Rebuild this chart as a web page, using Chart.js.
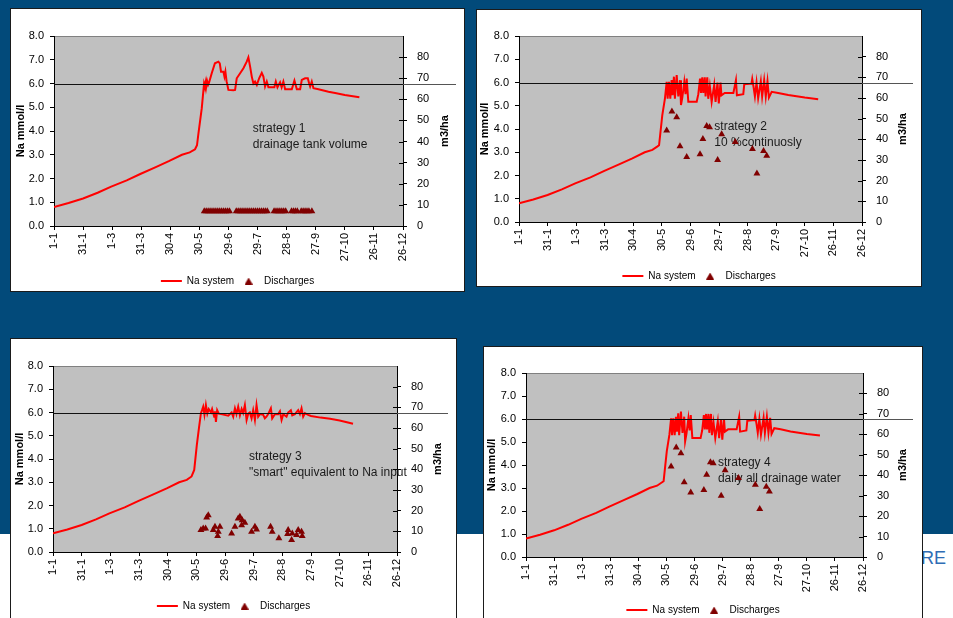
<!DOCTYPE html>
<html>
<head>
<meta charset="utf-8">
<script src="https://cdn.jsdelivr.net/npm/chart.js@4"></script>
<style>
  html, body { margin: 0; padding: 0; }
  body { width: 953px; height: 618px; overflow: hidden; position: relative; background: #fff;
         font-family: "Liberation Sans", Arial, sans-serif; }
  #band { position: absolute; left: 0; top: 0; width: 953px; height: 534px; background: #024a7a; }
  .panel { position: absolute; box-sizing: border-box; background: #fff; border: 1px solid #1b1b1b; }
  canvas { position: absolute; }
  #tail { position: absolute; left: 921px; top: 548px; font-size: 18px; color: #2f6db5; }
</style>
</head>
<body>
<div id="band"></div>
<div id="tail">RE</div>
<div class="panel" style="left:10px;top:8px;width:455px;height:284px"></div>
<div class="panel" style="left:476px;top:9px;width:446px;height:278px"></div>
<div class="panel" style="left:10px;top:338px;width:447px;height:300px"></div>
<div class="panel" style="left:483px;top:346px;width:440px;height:300px"></div>
<canvas id="c1"></canvas>
<canvas id="c2"></canvas>
<canvas id="c3"></canvas>
<canvas id="c4"></canvas>
<script>
// ---- data ------------------------------------------------------------
const dateLabels = ['1-1', '31-1', '1-3', '31-3', '30-4', '30-5', '29-6', '29-7', '28-8', '27-9', '27-10', '26-11', '26-12'];
const naLimit = 6.0;

// Na in the system during the first months, the same for every strategy: [day, mmol/l]
const riseNa = [[0, 0.8], [15, 0.97], [30, 1.16], [45, 1.4], [59, 1.66], [75, 1.92], [89, 2.19],
                [105, 2.48], [119, 2.74], [132, 3.0], [140, 3.1]];

// strategy 1: drainage tank volume
const s1Na = [[145.5, 3.23], [147.5, 3.4], [149, 3.9], [152.4, 4.95], [154.8, 6.0], [155.5, 5.9], [156.5, 6.08],
  [157, 5.85], [158, 6.1], [159, 5.95], [160, 6.05], [162.7, 6.43], [166, 6.85], [169.6, 6.92], [171, 6.85],
  [172.3, 6.5], [174.7, 6.5], [175.8, 6.29], [176.8, 6.5], [178, 6.1], [179.9, 5.73], [185, 5.72], [186.8, 5.73],
  [188.5, 6.22], [192, 6.43], [195.4, 6.64], [198.8, 6.92], [200.5, 7.1], [202.3, 6.71], [204, 6.29], [205.7, 6.0],
  [207.4, 6.08], [209.2, 5.94], [211.6, 6.22], [214.3, 6.45], [216, 6.29], [217.7, 5.87], [219.5, 6.08],
  [221.2, 5.84], [227.3, 5.84], [228.8, 6.08], [230.5, 5.84], [233.2, 6.05], [234.8, 5.84], [236.6, 6.08],
  [238.4, 5.76], [245.3, 5.76], [248, 6.12], [250.5, 5.76], [253.9, 5.76], [255.6, 6.15], [259, 6.22],
  [261.8, 6.22], [263.2, 6.0], [264.2, 5.87], [265.9, 6.08], [267.6, 5.8], [272.8, 5.76], [283.1, 5.65],
  [290, 5.6], [300, 5.52], [315, 5.42]];
const s1Disch = [[155, 7], [157, 7], [159, 7], [161, 7], [163, 7], [165, 7], [167, 7], [169, 7], [171, 7],
  [173, 7], [175, 7], [177, 7], [179, 7], [181, 7], [188, 7], [190, 7], [192, 7], [194, 7], [196, 7], [198, 7],
  [200, 7], [202, 7], [204, 7], [206, 7], [208, 7], [210, 7], [212, 7], [214, 7], [216, 7], [218, 7], [220, 7],
  [227, 7], [229, 7], [231, 7], [233, 7], [235, 7], [237, 7], [239, 7], [245, 7], [247, 7], [249, 7], [251, 7],
  [255, 7], [257, 7], [259, 7], [261, 7], [263, 7], [266, 7]];

// strategies 2 and 4: 10 % continuously / daily all drainage water
const s2Na = [[145, 3.24], [147, 3.3], [150.4, 4.6], [153.2, 5.32], [155, 6.03], [156, 5.3], [157.4, 6.03],
  [158.8, 5.3], [160.2, 6.1], [161.2, 5.45], [162.6, 6.25], [163.6, 5.3], [165.5, 6.32], [167.2, 5.4], [169, 6.1],
  [170, 5.03], [171.4, 5.35], [173.5, 6.03], [174.8, 5.5], [176, 6.17], [177.7, 5.17], [186.5, 5.17],
  [188.2, 5.5], [190, 6.17], [191, 5.55], [192.4, 6.22], [193.4, 5.55], [195, 6.22], [195.8, 5.4], [197.6, 6.22],
  [198.6, 5.3], [200.3, 5.85], [202.2, 5.17], [204.9, 5.9], [206.3, 5.17], [208.3, 6.0], [209.7, 5.1],
  [211.5, 6.0], [212.5, 5.45], [215.9, 5.55], [225, 5.55], [227.7, 6.1], [228.7, 5.45], [235.4, 5.5],
  [236.4, 5.92], [244, 5.95], [244.8, 6.15], [246.2, 5.8], [247.6, 5.4], [249.3, 6.0], [251, 5.32],
  [253.8, 6.05], [255.2, 5.4], [257.3, 6.1], [259, 5.4], [260.8, 6.05], [262.3, 5.35], [265.2, 5.6],
  [272, 5.55], [282.6, 5.46], [300, 5.35], [314, 5.28]];
const s2Disch = [[155, 44.3], [160.5, 53.5], [165.5, 50.7], [169, 36.6], [176, 31.5], [190, 32.8], [193, 40.2],
  [197, 46.4], [200, 45.9], [208.5, 30], [212.7, 42.4], [227, 38.7], [245, 35.3], [249.7, 23.5], [256.7, 34.4],
  [260, 32]];

// strategy 3: "smart" equivalent to Na input
const s3Na = [[145, 3.25], [147.8, 3.53], [150.5, 4.6], [152.7, 5.32], [154.8, 5.97], [156, 6.1], [157.2, 6.25],
  [158.5, 5.9], [160, 6.32], [161.5, 5.95], [163, 6.15], [165.3, 6.0], [166.5, 6.15], [168.7, 5.82], [169.5, 6.05],
  [170.5, 5.6], [171.8, 6.1], [173.5, 5.95], [176, 5.93], [183.4, 5.86], [186.9, 6.0], [188.6, 5.82],
  [190.4, 6.18], [192, 5.93], [193.8, 6.25], [195.6, 5.88], [197.4, 6.15], [199, 5.98], [200.8, 6.32],
  [202.6, 5.68], [204.3, 5.95], [206, 6.0], [207.8, 5.75], [209.5, 6.1], [211.3, 5.68], [213, 6.32],
  [214.7, 5.82], [216.5, 5.93], [220, 5.9], [221.7, 5.75], [223.4, 5.82], [225.2, 5.93], [228, 6.18],
  [229.4, 5.75], [232.2, 5.93], [235.7, 5.93], [237.5, 6.05], [239.2, 5.68], [241, 5.93], [244.4, 5.82],
  [246.1, 6.0], [248.9, 6.1], [250.4, 5.88], [253.2, 5.93], [256.6, 6.1], [258.4, 5.93], [260.1, 6.18],
  [261.8, 5.82], [263.6, 5.97], [267, 5.9], [270, 5.85], [280, 5.78], [290, 5.73], [300, 5.66], [314, 5.52]];
const s3Disch = [[154.8, 10.6], [157.2, 11.4], [159.7, 11.4], [160.8, 16.7], [162.5, 17.8], [167.7, 10.6],
  [169.5, 12.2], [172.3, 7.7], [173, 9.8], [174.7, 12.2], [186.9, 9.0], [190.4, 12.2], [193.8, 16.2],
  [195.6, 17.0], [197.4, 13.0], [198, 15.4], [200.8, 14.1], [207.8, 9.8], [211.3, 12.2], [213, 10.9],
  [227.7, 12.2], [229.4, 9.8], [236.4, 6.6], [245.5, 8.7], [246.1, 10.6], [249.7, 5.8], [250.4, 9.0],
  [254.9, 8.2], [256.6, 10.6], [260.1, 9.8], [260.8, 7.7]];

const notes1 = ['strategy 1', 'drainage tank volume'];
const notes2 = ['strategy 2', '10 %continuosly'];
const notes3 = ['strategy 3', '"smart" equivalent to Na input'];
const notes4 = ['strategy 4', 'daily all drainage water'];
const noteAt = { day: 205, na: 4.1 };

// ---- drawing -----------------------------------------------------------
const FONT = '"Liberation Sans", Arial, sans-serif';
Chart.defaults.font.family = FONT;
Chart.defaults.color = '#000';

const toPoints = pairs => pairs.map(([d, v]) => ({ x: d, y: v }));

function legendTriangle() {
  const c = document.createElement('canvas');
  c.width = 8; c.height = 7;
  const g = c.getContext('2d');
  g.fillStyle = '#800000';
  g.beginPath(); g.moveTo(4, 0); g.lineTo(8, 7); g.lineTo(0, 7); g.closePath(); g.fill();
  return c;
}
const triIcon = legendTriangle();

// grey plot area, strategy note, limit line, crossing ticks and the m3/ha title
const panelDecor = {
  id: 'panelDecor',
  beforeDraw(chart) {
    const { ctx, chartArea: a } = chart;
    ctx.save();
    ctx.fillStyle = '#c0c0c0';
    ctx.fillRect(a.left, a.top, a.right - a.left, a.bottom - a.top);
    ctx.strokeStyle = '#808080';
    ctx.lineWidth = 1;
    ctx.beginPath(); ctx.moveTo(a.left, a.top + 0.5); ctx.lineTo(a.right, a.top + 0.5); ctx.stroke();
    ctx.restore();
  },
  beforeDatasetsDraw(chart, args, o) {
    const { ctx } = chart;
    const x = chart.scales.x.getPixelForValue(noteAt.day);
    const y = chart.scales.y.getPixelForValue(noteAt.na);
    ctx.save();
    ctx.font = '12px ' + FONT;
    ctx.fillStyle = '#1a1a1a';
    ctx.textAlign = 'left';
    ctx.textBaseline = 'middle';
    o.note.forEach((t, i) => ctx.fillText(t, x, y + i * 16));
    ctx.restore();
  },
  afterDatasetsDraw(chart, args, o) {
    const { ctx, chartArea: a } = chart;
    const ly = Math.round(chart.scales.y.getPixelForValue(naLimit)) + 0.5;
    ctx.save();
    ctx.lineWidth = 1;
    ctx.strokeStyle = '#111';
    ctx.beginPath(); ctx.moveTo(a.left, ly); ctx.lineTo(a.right, ly); ctx.stroke();
    ctx.strokeStyle = '#555';
    ctx.beginPath(); ctx.moveTo(a.right, ly); ctx.lineTo(a.right + o.lineExt, ly); ctx.stroke();
    ctx.restore();
  },
  afterDraw(chart, args, o) {
    const { ctx, chartArea: a } = chart;
    const y2 = chart.scales.y2;
    ctx.save();
    ctx.strokeStyle = '#000';
    ctx.lineWidth = 1;
    y2.ticks.forEach(t => {
      if (t.label === null || t.label === undefined) return;
      const py = Math.round(y2.getPixelForValue(t.value)) + 0.5;
      ctx.beginPath(); ctx.moveTo(a.right - 4, py); ctx.lineTo(a.right, py); ctx.stroke();
    });
    ctx.translate(a.right + o.titleX, (a.top + a.bottom) / 2);
    ctx.rotate(-Math.PI / 2);
    ctx.font = 'bold 11px ' + FONT;
    ctx.fillStyle = '#000';
    ctx.textAlign = 'center';
    ctx.textBaseline = 'middle';
    ctx.fillText('m3/ha', 0, 0);
    ctx.restore();
  }
};

function buildChart(p) {
  const cv = document.getElementById(p.id);
  cv.width = p.w; cv.height = p.h;
  cv.style.left = p.left + 'px';
  cv.style.top = p.top + 'px';
  const axisGrid = { drawOnChartArea: false, color: '#000', tickLength: 4 };
  const axisBorder = { color: '#000', width: 1 };
  return new Chart(cv, {
    type: 'line',
    data: {
      datasets: [
        { label: 'Na system', data: toPoints(riseNa.concat(p.na)), yAxisID: 'y',
          borderColor: '#ff0000', backgroundColor: '#ff0000', borderWidth: 2, pointRadius: 0,
          tension: 0, fill: false },
        { label: 'Discharges', data: toPoints(p.disch), yAxisID: 'y2', showLine: false,
          pointStyle: 'triangle', pointRadius: 4, pointHoverRadius: 4,
          backgroundColor: '#800000', borderColor: '#800000', borderWidth: 0 }
      ]
    },
    options: {
      responsive: false,
      animation: false,
      devicePixelRatio: 1,
      layout: { padding: { top: p.padTop, left: 0, right: 0, bottom: 0 } },
      scales: {
        x: {
          type: 'linear', min: 0, max: 360,
          afterFit: s => { s.height = p.xAxisH; },
          ticks: { stepSize: 30, autoSkip: false, minRotation: 90, maxRotation: 90, padding: 3,
                   font: { size: 11 }, callback: (v, i) => dateLabels[i] },
          grid: axisGrid, border: axisBorder
        },
        y: {
          position: 'left', min: 0, max: 8,
          afterFit: s => { s.width = p.yAxisW; },
          ticks: { stepSize: 1, padding: 6, font: { size: 11 }, callback: v => v.toFixed(1) },
          grid: axisGrid, border: axisBorder,
          title: { display: true, text: 'Na mmol/l', font: { size: 11, weight: 'bold' },
                   padding: { top: p.titlePad, bottom: 0 } }
        },
        y2: {
          position: 'right', min: 0, max: 90,
          afterFit: s => { s.width = p.y2AxisW; },
          ticks: { stepSize: 10, padding: 10, font: { size: 11 }, callback: v => (v > 80 ? null : v) },
          grid: axisGrid, border: axisBorder
        }
      },
      plugins: {
        tooltip: { enabled: false },
        legend: {
          position: 'bottom',
          labels: {
            usePointStyle: true, pointStyleWidth: 21, padding: 4, color: '#000', font: { size: 10 },
            generateLabels: () => [
              { text: 'Na system', pointStyle: 'line', strokeStyle: '#ff0000', fillStyle: '#ff0000',
                lineWidth: 2, hidden: false, datasetIndex: 0 },
              { text: 'Discharges', pointStyle: triIcon, strokeStyle: '#800000', fillStyle: '#800000',
                lineWidth: 0, hidden: false, datasetIndex: 1 }
            ]
          }
        },
        panelDecor: { note: p.note, lineExt: p.lineExt, titleX: p.titleX }
      }
    },
    plugins: [panelDecor]
  });
}

buildChart({ id: 'c1', left: 11, top: 9, w: 453, h: 287, padTop: 27, yAxisW: 43, y2AxisW: 61, xAxisH: 46,
             titlePad: 3, lineExt: 53, titleX: 42, na: s1Na, disch: s1Disch, note: notes1 });
buildChart({ id: 'c2', left: 477, top: 10, w: 444, h: 281, padTop: 26, yAxisW: 42, y2AxisW: 59, xAxisH: 45,
             titlePad: 1.7, lineExt: 51, titleX: 41, na: s2Na, disch: s2Disch, note: notes2 });
buildChart({ id: 'c3', left: 11, top: 339, w: 445, h: 282, padTop: 27, yAxisW: 42, y2AxisW: 59, xAxisH: 45,
             titlePad: 2.4, lineExt: 51, titleX: 41, na: s3Na, disch: s3Disch, note: notes3 });
buildChart({ id: 'c4', left: 484, top: 347, w: 438, h: 278, padTop: 26, yAxisW: 42, y2AxisW: 59, xAxisH: 44,
             titlePad: 1.6, lineExt: 50, titleX: 40, na: s2Na, disch: s2Disch, note: notes4 });
</script>
</body>
</html>
